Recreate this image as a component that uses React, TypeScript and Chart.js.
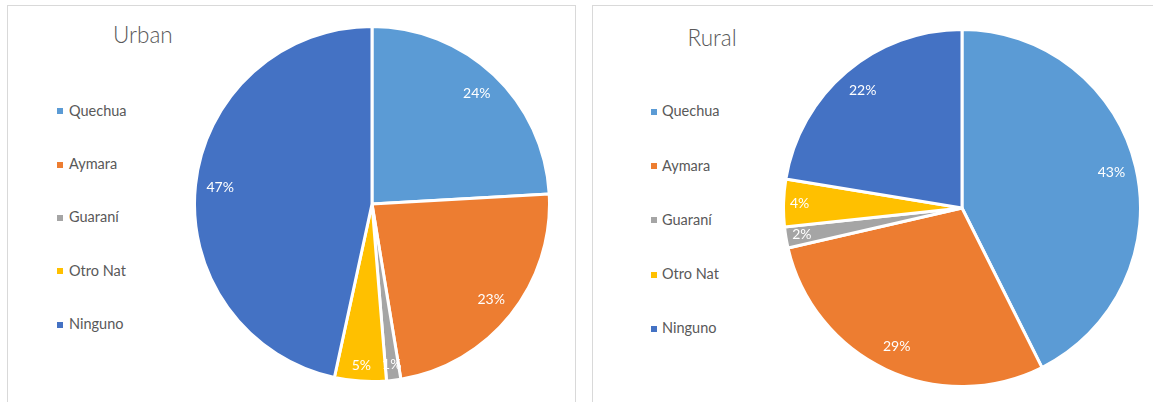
import React, { useEffect, useRef } from "react";
import { Chart, registerables } from "chart.js";

Chart.register(...registerables);

// ---- data ----
const categories = ["Quechua", "Aymara", "Guaraní", "Otro Nat", "Ninguno"];
const urbanValues = [24.1, 23.3, 1.3, 4.7, 46.6];
const ruralValues = [42.6, 28.8, 1.9, 4.3, 22.4];
const sliceColors = ["#5B9BD5", "#ED7D31", "#A5A5A5", "#FFC000", "#4472C4"];
const panelTitles = ["Urban", "Rural"];

const FONT = "Lato, 'Open Sans', 'DejaVu Sans', sans-serif";
const TEXT_COLOR = "#595959";

const pctLabelPlugin = {
  id: "pctLabels",
  afterDatasetsDraw(chart: any) {
    const ctx = chart.ctx;
    const meta = chart.getDatasetMeta(0);
    const data = chart.data.datasets[0].data as number[];
    const total = data.reduce((a: number, b: number) => a + b, 0);
    ctx.save();
    ctx.font = `14px ${FONT}`;
    ctx.fillStyle = "#ffffff";
    ctx.textAlign = "center";
    ctx.textBaseline = "middle";
    meta.data.forEach((arc: any, i: number) => {
      const { startAngle, endAngle, outerRadius, x, y } = arc.getProps(
        ["startAngle", "endAngle", "outerRadius", "x", "y"],
        true
      );
      const mid = (startAngle + endAngle) / 2;
      const share = data[i] / total;
      const f = share < 0.06 ? 0.91 : 0.86;
      ctx.fillText(
        Math.round(share * 100) + "%",
        x + Math.cos(mid) * outerRadius * f,
        y + Math.sin(mid) * outerRadius * f
      );
    });
    ctx.restore();
  },
};

type PanelProps = {
  title: string;
  values: number[];
  box: { left: number; top: number; width: number; height: number };
  titlePos: { left: number; top: number };
  legendPos: { boxLeft: number; textLeft: number; top: number; step: number };
  pie: { left: number; top: number; size: number };
};

function PiePanel({ title, values, box, titlePos, legendPos, pie }: PanelProps) {
  const ref = useRef<HTMLCanvasElement | null>(null);

  useEffect(() => {
    if (!ref.current) return;
    const chart = new Chart(ref.current, {
      type: "pie",
      data: {
        labels: categories,
        datasets: [
          {
            data: values,
            backgroundColor: sliceColors,
            borderColor: "#ffffff",
            borderWidth: 3,
          },
        ],
      },
      options: {
        animation: false,
        responsive: false,
        layout: { padding: 0 },
        plugins: {
          legend: { display: false },
          tooltip: { enabled: false },
          title: { display: false },
        },
      },
      plugins: [pctLabelPlugin],
    });
    return () => chart.destroy();
  }, [values]);

  return (
    <>
      <div
        style={{
          position: "absolute",
          left: box.left,
          top: box.top,
          width: box.width,
          height: box.height,
          border: "1px solid #d9d9d9",
          boxSizing: "border-box",
          background: "#ffffff",
        }}
      />
      <div
        style={{
          position: "absolute",
          left: titlePos.left,
          top: titlePos.top,
          font: `300 22.5px ${FONT}`,
          lineHeight: "22px",
          color: TEXT_COLOR,
          whiteSpace: "nowrap",
        }}
      >
        {title}
      </div>
      {categories.map((c, i) => (
        <div
          key={c}
          style={{
            position: "absolute",
            left: legendPos.boxLeft,
            top: legendPos.top + i * legendPos.step,
            height: 15,
            width: 120,
          }}
        >
          <div
            style={{
              position: "absolute",
              left: 0,
              top: 4.7,
              width: 6,
              height: 6,
              background: sliceColors[i],
            }}
          />
          <div
            style={{
              position: "absolute",
              left: legendPos.textLeft - legendPos.boxLeft,
              top: 0,
              font: `14.5px ${FONT}`,
              lineHeight: "14.5px",
              color: TEXT_COLOR,
              whiteSpace: "nowrap",
            }}
          >
            {c}
          </div>
        </div>
      ))}
      <canvas
        ref={ref}
        width={pie.size}
        height={pie.size}
        style={{
          position: "absolute",
          left: pie.left,
          top: pie.top,
          width: pie.size,
          height: pie.size,
        }}
      />
    </>
  );
}

export default function App() {
  return (
    <div
      style={{
        position: "absolute",
        left: 0,
        top: 0,
        width: 1153,
        height: 402,
        overflow: "hidden",
        background: "#ffffff",
      }}
    >
      <PiePanel
        title={panelTitles[0]}
        values={urbanValues}
        box={{ left: 7, top: 5, width: 569, height: 420 }}
        titlePos={{ left: 113, top: 23.8 }}
        legendPos={{ boxLeft: 57, textLeft: 69, top: 103.8, step: 53.3 }}
        pie={{ left: 193, top: 25, size: 358 }}
      />
      <PiePanel
        title={panelTitles[1]}
        values={ruralValues}
        box={{ left: 592, top: 5, width: 600, height: 420 }}
        titlePos={{ left: 687.5, top: 27.2 }}
        legendPos={{ boxLeft: 651, textLeft: 662, top: 104.4, step: 54.2 }}
        pie={{ left: 782, top: 28, size: 360 }}
      />
    </div>
  );
}
